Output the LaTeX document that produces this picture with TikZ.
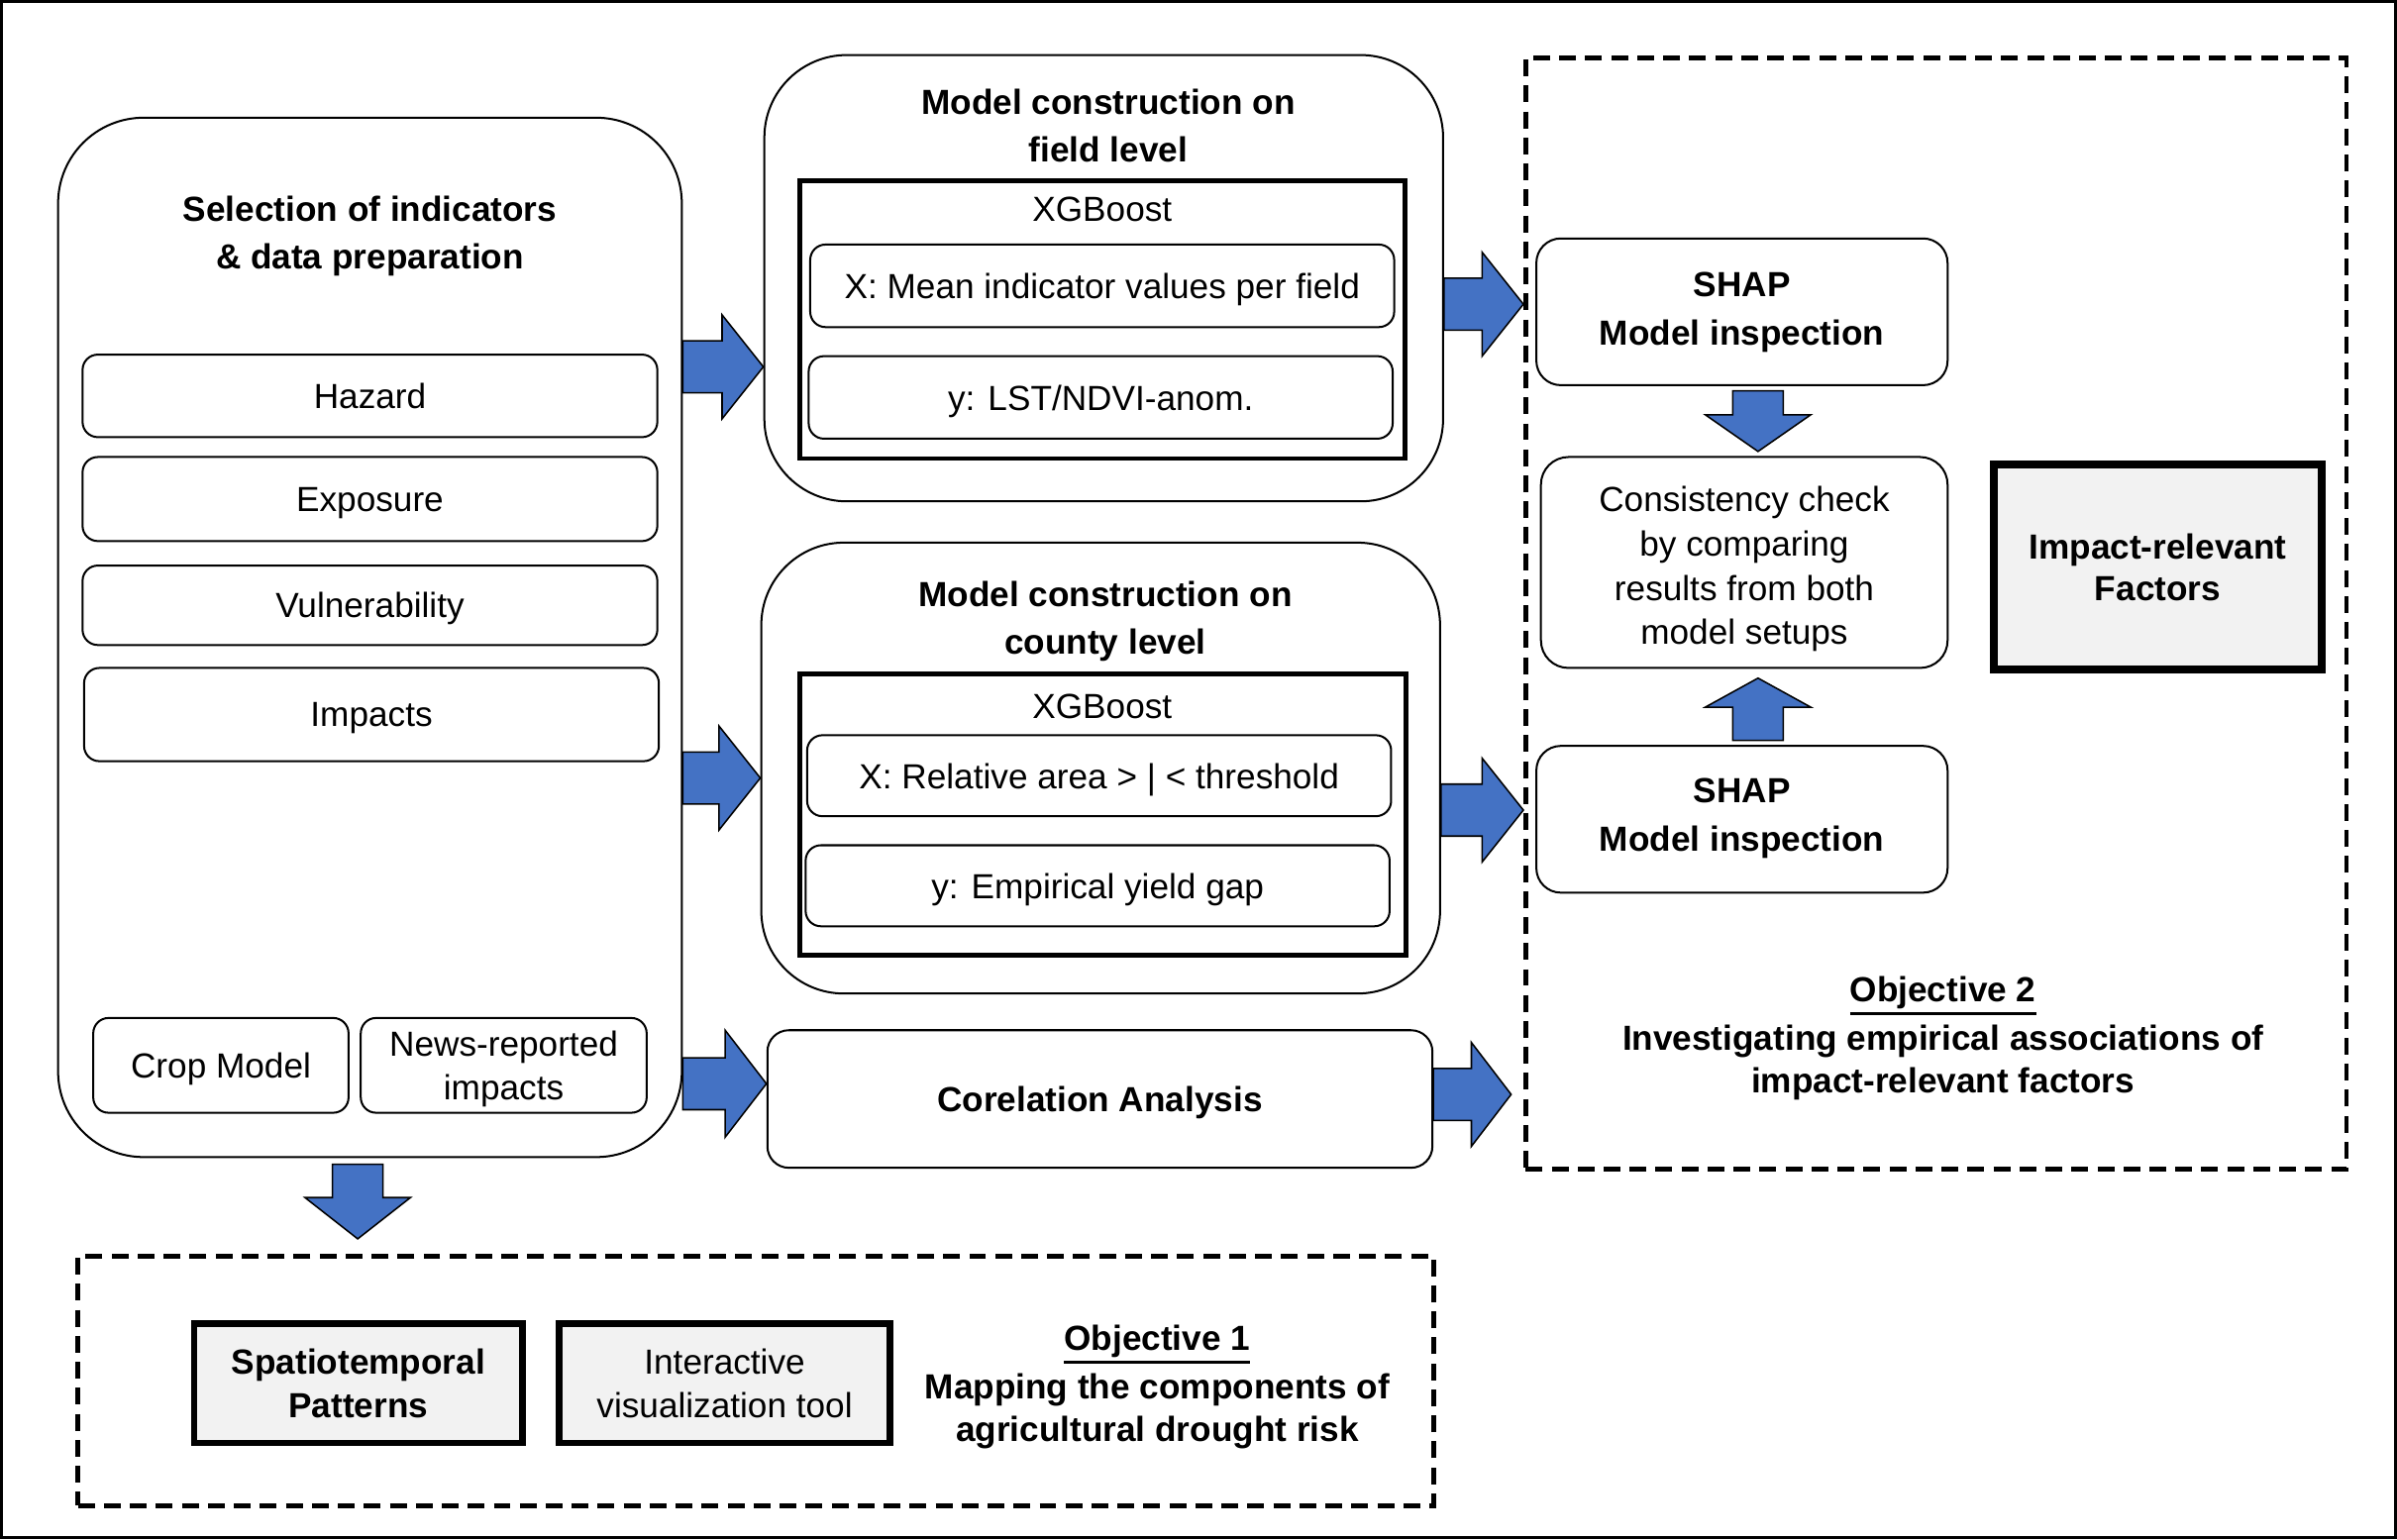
\documentclass[tikz,border=0pt]{standalone}
\usepackage{fontspec}
\setmainfont{Liberation Sans}
\usetikzlibrary{fit,calc}
\definecolor{ablue}{HTML}{4472C4}
\definecolor{lgray}{HTML}{F2F2F2}
\newcommand\myuline[1]{\leavevmode\vtop{\hbox{#1}\kern1.2pt\hrule height 0.9pt}}
% horizontal block arrow: start, tip, shaft half, head half, head length
\newcommand\harrow[5]{\path[barr] let \p1=(#1), \p2=(#2) in (\x1,\y1+#3) -- (\x2-#5,\y1+#3) -- (\x2-#5,\y1+#4) -- (\x2,\y1) -- (\x2-#5,\y1-#4) -- (\x2-#5,\y1-#3) -- (\x1,\y1-#3) -- cycle;}
% downward block arrow
\newcommand\darrow[5]{\path[barr] let \p1=(#1), \p2=(#2) in (\x1-#3,\y1) -- (\x1-#3,\y2+#5) -- (\x1-#4,\y2+#5) -- (\x1,\y2) -- (\x1+#4,\y2+#5) -- (\x1+#3,\y2+#5) -- (\x1+#3,\y1) -- cycle;}
% upward block arrow
\newcommand\uarrow[5]{\path[barr] let \p1=(#1), \p2=(#2) in (\x1-#3,\y1) -- (\x1-#3,\y2-#5) -- (\x1-#4,\y2-#5) -- (\x1,\y2) -- (\x1+#4,\y2-#5) -- (\x1+#3,\y2-#5) -- (\x1+#3,\y1) -- cycle;}
\begin{document}
\begin{tikzpicture}[x=0.5pt,y=-0.5pt,
  font=\fontsize{11.4}{14}\selectfont,
  box/.style={draw, line width=0.65pt, rounded corners=5pt, inner sep=0pt},
  bigbox/.style={draw, line width=0.65pt, rounded corners=28pt, inner sep=0pt},
  xgb/.style={draw, line width=1.6pt, inner sep=0pt},
  resbox/.style={draw, line width=2.2pt, fill=lgray, inner sep=0pt},
  dbox/.style={draw, line width=1.5pt, dash pattern=on 5.5pt off 3pt, inner sep=0pt},
  barr/.style={draw=black, line width=0.5pt, fill=ablue, line join=miter},
  bf/.style={font=\fontsize{11.4}{15.5}\selectfont\bfseries},
  ttl/.style={bf, align=center, inner sep=0pt, text depth=0pt},
  txt/.style={align=center, inner sep=0pt, text depth=0pt}]
\useasboundingbox (0,0) rectangle (1568,1007);
\draw[line width=1pt] (1,1) rectangle (1567,1006);

% helper coordinates
\coordinate (y199) at (0,199);
\coordinate (y240) at (0,240);
\coordinate (y509) at (0,509);
\coordinate (y530) at (0,530);
\coordinate (y709) at (0,709);
\coordinate (y716) at (0,716);
\coordinate (x234) at (234,0);
\coordinate (x1150) at (1150,0);

% left box
\node[bigbox, fit={(38,77) (446,757)}] (sel) {};
\node[ttl] (selt) at (242,152) {Selection of indicators\\\& data preparation};
\node[box, fit={(54,232) (430,286)}] (haz) {};
\node[txt] (hazt) at (haz) {Hazard};
\node[box, fit={(54,299) (430,354)}] (expo) {};
\node[txt] (expot) at (expo) {Exposure};
\node[box, fit={(54,370) (430,422)}] (vul) {};
\node[txt] (vult) at (vul) {Vulnerability};
\node[box, fit={(55,437) (431,498)}] (imp) {};
\node[txt] (impt) at (imp) {Impacts};
\node[box, fit={(61,666) (228,728)}] (crop) {};
\node[txt] (cropt) at (crop) {Crop Model};
\node[box, fit={(236,666) (423,728)}] (news) {};
\node[txt] (newst) at (news) {News-reported\\impacts};

% field level
\node[bigbox, rounded corners=27pt, fit={(500,36) (944,328)}] (fld) {};
\node[ttl] (fldt) at (725,82) {Model construction on\\field level};
\node[xgb, fit={(523,118) (919,300)}] (fxg) {};
\node[txt] (fxgt) at (721,137) {XGBoost};
\node[box, fit={(530,160) (912,214)}] (fx) {};
\node[txt] (fxt) at (fx) {X: Mean indicator values per field};
\node[box, fit={(529,233) (911,287)}] (fy) {};
\node[txt] (fyt) at (fy) {y: LST/NDVI-anom.};

% county level
\node[bigbox, rounded corners=27pt, fit={(498,355) (942,650)}] (cty) {};
\node[ttl] (ctyt) at (723,404) {Model construction on\\county level};
\node[xgb, fit={(523,441) (920,625)}] (cxg) {};
\node[txt] (cxgt) at (721,462) {XGBoost};
\node[box, fit={(528,481) (910,534)}] (cx) {};
\node[txt] (cxt) at (cx) {X: Relative area > | < threshold};
\node[box, fit={(527,553) (909,606)}] (cy) {};
\node[txt] (cyt) at (cy) {y: Empirical yield gap};

% correlation
\node[box, rounded corners=7pt, fit={(502,674) (937,764)}] (cor) {};
\node[ttl] (cort) at (cor) {Corelation Analysis};

% objective 2
\node[dbox, fit={(998,38) (1535,765)}] (ob2) {};
\node[box, rounded corners=8pt, fit={(1005,156) (1274,252)}] (sh1) {};
\node[txt, font=\fontsize{11.4}{16}\selectfont\bfseries] (sh1t) at ($(sh1)+(0,-2)$) {SHAP\\Model inspection};
\node[box, rounded corners=9pt, fit={(1008,299) (1274,437)}] (cons) {};
\node[txt, font=\fontsize{11.4}{14.5}\selectfont] (const) at ($(cons)+(0,2)$) {Consistency check\\by comparing\\results from both\\model setups};
\node[box, rounded corners=8pt, fit={(1005,488) (1274,584)}] (sh2) {};
\node[txt, font=\fontsize{11.4}{16}\selectfont\bfseries] (sh2t) at ($(sh2)+(0,-3)$) {SHAP\\Model inspection};
\node[resbox, line width=2.6pt, fit={(1304,304) (1519,438)}] (irf) {};
\node[txt, font=\fontsize{11.4}{13.5}\selectfont\bfseries] (irft) at (irf) {Impact-relevant\\Factors};
\node[txt, font=\fontsize{11.4}{14}\selectfont\bfseries] (ob2t) at (1271,677) {\myuline{Objective 2}\\[2pt]Investigating empirical associations of\\impact-relevant factors};

% objective 1
\node[dbox, fit={(51,822) (938,985)}] (ob1) {};
\node[resbox, fit={(127,866) (342,944)}] (spt) {};
\node[txt, font=\fontsize{11.4}{14}\selectfont\bfseries] (sptt) at (spt) {Spatiotemporal\\Patterns};
\node[resbox, fit={(366,866) (582,944)}] (ivt) {};
\node[txt] (ivtt) at (ivt) {Interactive\\visualization tool};
\node[txt, font=\fontsize{11.4}{14}\selectfont\bfseries] (ob1t) at (757,905) {\myuline{Objective 1}\\[2pt]Mapping the components of\\agricultural drought risk};

% block arrows
\harrow{sel.east |- y240}{fld.west |- y240}{8.5pt}{17pt}{13.5pt}
\harrow{fld.east |- y199}{ob2.west |- y199}{8.5pt}{17pt}{13.5pt}
\harrow{sel.east |- y509}{cty.west |- y509}{8.5pt}{17pt}{13.5pt}
\harrow{cty.east |- y530}{ob2.west |- y530}{8.5pt}{17pt}{13.5pt}
\harrow{sel.east |- y709}{cor.west |- y709}{8.5pt}{17.5pt}{13.5pt}
\harrow{cor.east |- y716}{$(ob2.west |- y716)+(-8,0)$}{8.5pt}{17pt}{13pt}
\darrow{$(sel.south -| x234)+(0,4)$}{$(ob1.north -| x234)+(0,-10)$}{8.25pt}{17.25pt}{13.5pt}
\darrow{$(sh1.south -| x1150)+(0,3)$}{$(cons.north -| x1150)+(0,-3)$}{8.25pt}{17.25pt}{12pt}
\uarrow{$(sh2.north -| x1150)+(0,-3)$}{$(cons.south -| x1150)+(0,6)$}{8.25pt}{17.25pt}{9.5pt}
\end{tikzpicture}
\end{document}
